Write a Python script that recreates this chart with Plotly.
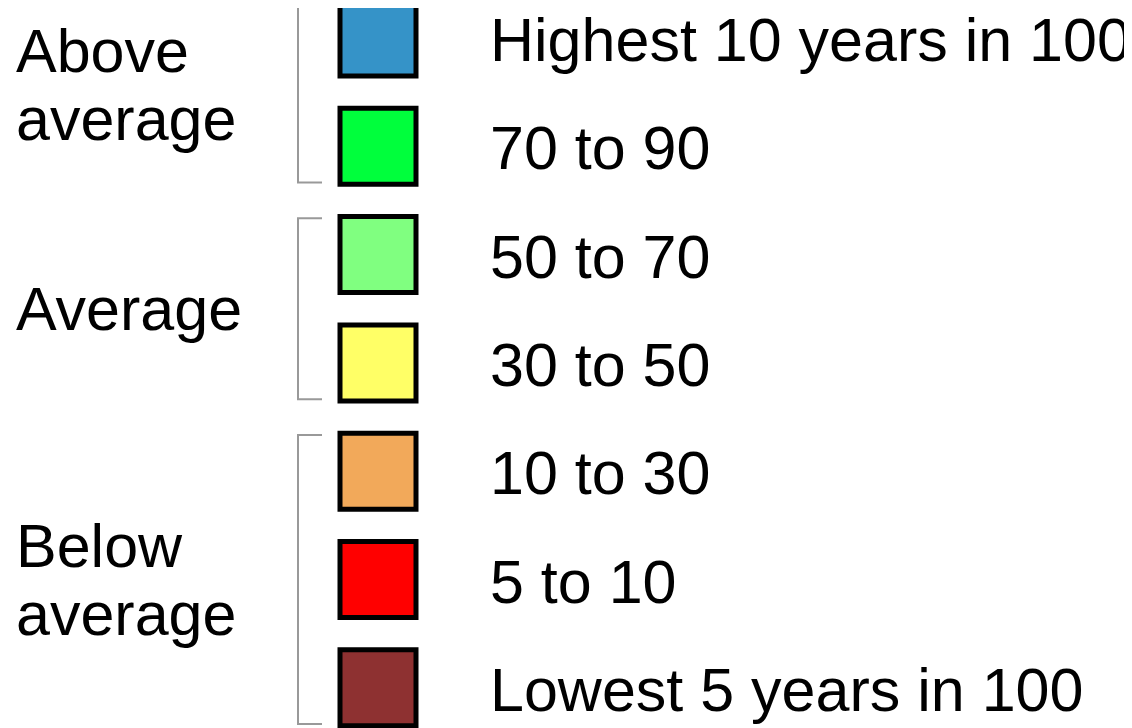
import plotly.graph_objects as go

# ---- data ----
categories = [
    "Highest 10 years in 100",
    "70 to 90",
    "50 to 70",
    "30 to 50",
    "10 to 30",
    "5 to 10",
    "Lowest 5 years in 100",
]
colors = ["#3593C8", "#00FF3C", "#80FF80", "#FFFF66", "#F2A95A", "#FF0000", "#8E3131"]
group_labels = [["Above", "average"], ["Average"], ["Below", "average"]]
group_first = [0, 2, 4]
group_last = [1, 3, 6]

# ---- layout helpers ----
W, H = 1132, 728
PAGE_MARGIN = 8  # default body margin of the html page
FW, FH = W - PAGE_MARGIN, H - PAGE_MARGIN
row_px = 108.3
top_px = 38
# y axis in row units, mapped to window pixels
y_range = [(H - top_px) / row_px, (PAGE_MARGIN - top_px) / row_px]
x_range = [PAGE_MARGIN, W]
rows = list(range(len(categories)))

FONT = "Liberation Sans, Arial, sans-serif"
FSIZE = 61

fig = go.Figure()
fig.add_trace(go.Scatter(
    x=[378] * len(rows), y=rows, mode="markers",
    marker=dict(symbol="square", size=76, color=colors,
                line=dict(color="black", width=5)),
    hoverinfo="skip", showlegend=False, cliponaxis=False,
))

annotations = []
for i, label in enumerate(categories):
    annotations.append(dict(
        x=488, y=i + 0.02, xref="x", yref="y", text=label, showarrow=False,
        xanchor="left", yanchor="middle",
        font=dict(family=FONT, size=FSIZE, color="black"),
    ))

shapes = []
ext = 0.335
line_step = 68 / row_px
label_shift = [-7 / row_px, 0, 0]
for lab, a, b, sh in zip(group_labels, group_first, group_last, label_shift):
    y0, y1 = a - ext, b + ext
    shapes.append(dict(
        type="path", xref="x", yref="y",
        path=f"M 322 {y0} L 298 {y0} L 298 {y1} L 322 {y1}",
        line=dict(color="#999999", width=2),
    ))
    center = (a + b) / 2 + sh
    n = len(lab)
    for k, line in enumerate(lab):
        yy = center + (k - (n - 1) / 2) * line_step
        annotations.append(dict(
            x=14, y=yy, xref="x", yref="y", text=line, showarrow=False,
            xanchor="left", yanchor="middle",
            font=dict(family=FONT, size=FSIZE, color="black"),
        ))

fig.update_layout(
    width=FW, height=FH,
    margin=dict(l=0, r=0, t=0, b=0),
    paper_bgcolor="white", plot_bgcolor="white",
    xaxis=dict(range=x_range, visible=False, fixedrange=True),
    yaxis=dict(range=y_range, visible=False, fixedrange=True),
    annotations=annotations, shapes=shapes,
    showlegend=False,
)

fig.write_html("out.html", config={"displayModeBar": False})
